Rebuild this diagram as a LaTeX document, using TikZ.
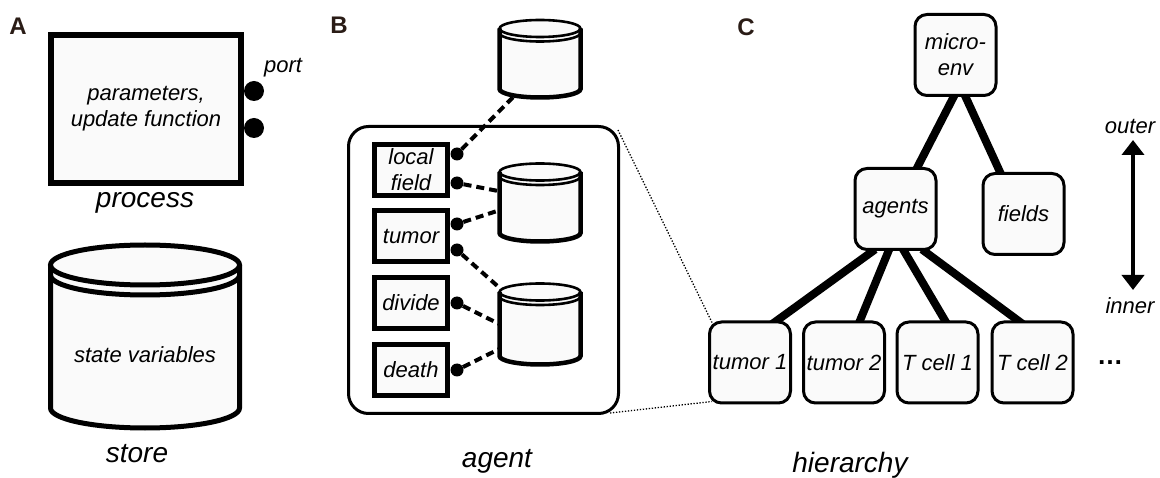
\documentclass[tikz,border=0pt]{standalone}
\usepackage{fontspec}
\setmainfont{Liberation Sans}
\usetikzlibrary{arrows.meta,calc}
\pgfdeclarelayer{background}
\pgfsetlayers{background,main}

\definecolor{boxfill}{gray}{0.98}
\definecolor{lblcol}{RGB}{42,28,22}

% storage cylinder: centre x, top-ellipse y, bottom-ellipse y, x radius, y radius,
% rim offset, wall line width, lid line width
\newcommand\drawcan[8]{%
  \fill[boxfill] ({#1-#4},#2) -- ({#1-#4},#3)
    arc[start angle=180,end angle=360,x radius=#4pt,y radius=#5pt] -- ({#1+#4},#2)
    arc[start angle=0,end angle=180,x radius=#4pt,y radius=#5pt] -- cycle;
  \draw[line width=#7pt] ({#1-#4},#2) -- ({#1-#4},#3)
    arc[start angle=180,end angle=360,x radius=#4pt,y radius=#5pt] -- ({#1+#4},#2);
  \draw[line width=#8pt] (#1,#2) ellipse[x radius=#4pt,y radius=#5pt];
  \draw[line width=#8pt] ({#1-#4},{#2+#6})
    arc[start angle=180,end angle=360,x radius=#4pt,y radius=#5pt];
}

\tikzset{
  panel/.style={font=\fontsize{24}{24}\selectfont\bfseries, text=lblcol},
  body/.style={font=\fontsize{22}{26}\selectfont\itshape, align=center},
  caption/.style={font=\fontsize{28}{30}\selectfont\itshape},
  procbox/.style={draw, line width=6pt, fill=boxfill, inner sep=0pt, body},
  minibox/.style={draw, line width=5pt, fill=boxfill, inner sep=0pt,
    minimum width=73pt, minimum height=51pt, body},
  portdot/.style={circle, fill=black, inner sep=0pt, minimum size=#1},
  portdot/.default=13pt,
  treebox/.style={draw, line width=3pt, fill=boxfill, rounded corners=12pt,
    inner sep=0pt, minimum width=81pt, minimum height=81pt, body},
  link/.style={line width=4pt, dash pattern=on 8pt off 5pt},
  branch/.style={line width=8pt, shorten <=-7pt, shorten >=-7pt},
  zoomline/.style={line width=1.3pt, dash pattern=on 1.3pt off 1.7pt},
  canvas/.style={inner sep=0pt, minimum width=81pt, minimum height=80pt},
}

\begin{document}
\begin{tikzpicture}[x=1pt,y=-1pt]
\useasboundingbox (0,0) rectangle (1160,478);

% ---------------- A: process and store ----------------
\node[panel] (la) at (18,26) {A};
\node[procbox, minimum width=190pt, minimum height=148pt] (proc) at (146,109)
  {parameters,\\update function};
\node[portdot=20pt] (pa) at (254,91) {};
\node[portdot=20pt] (pb) at (254,128) {};
\node[body] (portlbl) at (283,68) {port};
\node[caption] (proclbl) at (145,203) {process};

\drawcan{145}{265}{408}{94.5}{20}{10}{5}{5}
\node[body] (store) at (145,355) {state variables};
\node[caption] (storelbl) at (137,454) {store};

% ---------------- B: agent ----------------
\node[panel] (lb) at (339,25) {B};
\node[draw, line width=3pt, rounded corners=20pt, minimum width=270pt,
  minimum height=287pt, inner sep=0pt] (agentbox) at (483.5,270) {};

\drawcan{540}{28.5}{89}{40.5}{8.5}{4.5}{4.5}{2.6}
\drawcan{540}{172}{233}{40.5}{8.5}{4.5}{4.5}{2.6}
\drawcan{540}{292}{356}{40.5}{8.5}{4.5}{4.5}{2.6}
\node[canvas] (cylA) at (540,59) {};
\node[canvas] (cylB) at (540,203) {};
\node[canvas, minimum height=82pt] (cylC) at (540,324) {};

\node[minibox] (lf) at (411,170) {local\\field};
\node[minibox] (tu) at (411,236) {tumor};
\node[minibox] (dv) at (411,303) {divide};
\node[minibox] (de) at (411,370) {death};

\node[portdot] (lf1) at (457,154) {};
\node[portdot] (lf2) at (457,183) {};
\node[portdot] (tu1) at (457,224) {};
\node[portdot] (tu2) at (457,250) {};
\node[portdot] (dv1) at (457,303) {};
\node[portdot] (de1) at (457,370) {};

\begin{pgfonlayer}{background}
  \draw[link] (lf1) -- ($(cylA.south)+(-26,-3)$);
  \draw[link] (lf2) -- ($(cylB.west)+(4,-11)$);
  \draw[link] (tu1) -- ($(cylB.west)+(4,6)$);
  \draw[link] (tu2) -- ($(cylC.west)+(6,-31)$);
  \draw[link] (dv1) -- ($(cylC.west)+(4,2)$);
  \draw[link] (de1) -- ($(cylC.west)+(4,23)$);
\end{pgfonlayer}

\node[caption] (agentlbl) at (497,461) {agent};

% ---------------- C: hierarchy ----------------
\node[panel] (lc) at (746,27) {C};
\node[treebox] (me) at (955.5,55) {micro-\\env};
\node[treebox] (ag) at (895.5,209) {agents};
\node[treebox] (fi) at (1023.5,214) {fields};
\node[treebox] (t1) at (750,362.5) {tumor 1};
\node[treebox] (t2) at (844,362.5) {tumor 2};
\node[treebox] (c1) at (937.5,362.5) {T cell 1};
\node[treebox] (c2) at (1032.5,362.5) {T cell 2};
\node[font=\fontsize{26}{26}\selectfont\bfseries] (more) at (1110,363) {\dots};

\begin{pgfonlayer}{background}
  \draw[branch] ($(me.south)+(-3.5,3)$) -- ($(ag.north)+(22.5,-1)$);
  \draw[branch] ($(me.south)+(11.5,3)$) -- ($(fi.north)+(-23.5,0)$);
  \draw[branch] ($(ag.south)+(-26,2.5)$) -- ($(t1.north)+(27,0)$);
  \draw[branch] ($(ag.south)+(-8,2.5)$) -- ($(t2.north)+(16,0)$);
  \draw[branch] ($(ag.south)+(10,2.5)$) -- ($(c1.north)+(7.5,0)$);
  \draw[branch] ($(ag.south)+(32,2.5)$) -- ($(c2.north)+(-14.5,0)$);
\end{pgfonlayer}

% zoom lines from the agent to one of the leaves
\draw[zoomline] ($(agentbox.north east)+(-2,5)$) -- ($(t1.north west)+(4,2)$);
\draw[zoomline] ($(agentbox.south east)+(-10,-2)$) -- ($(t1.south west)+(4,-3)$);

% outer / inner scale
\node[body] (outer) at (1130,126) {outer};
\node[body] (inner) at (1130,306) {inner};
\coordinate (hi) at (1133,140);
\coordinate (lo) at (1133,290);
\draw[line width=4pt, {Triangle[width=22pt,length=15pt]}-{Triangle[width=22pt,length=15pt]}] (hi) -- (lo);

\node[caption] (hierlbl) at (850,465) {hierarchy};
\end{tikzpicture}
\end{document}
